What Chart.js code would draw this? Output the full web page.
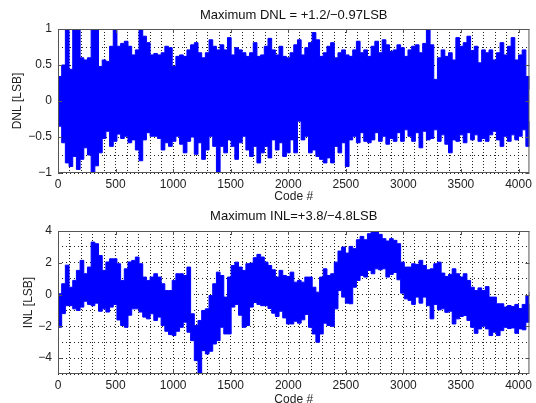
<!DOCTYPE html>
<html>
<head>
<meta charset="utf-8">
<script src="https://cdn.jsdelivr.net/npm/chart.js@4/dist/chart.umd.min.js"></script>
<style>
  html, body { margin: 0; padding: 0; background: #fff; overflow: hidden; width: 536px; height: 403px; }
  canvas { position: absolute; left: 0; }
  #dnl-chart { top: 0; }
  #inl-chart { top: 200px; }
</style>
</head>
<body>
<canvas id="dnl-chart" width="536" height="206"></canvas>
<canvas id="inl-chart" width="536" height="210"></canvas>
<script>
// envelope of the code histogram, read every 32 codes (last point = code 4095)
const codeStep = 32;
const lastCode = 4095;
const gridStep = 100;

const dnlHigh = [
  0.34, 0.5, 1.2, 0.44, 1.1, 1.2, 0.6, 0.57, 0.6, 1.2,
  1.1, 0.48, 0.57, 0.55, 0.76, 1.1, 0.76, 0.8, 0.83, 0.76,
  0.64, 0.71, 1.05, 0.9, 0.81, 0.64, 0.66, 0.64, 0.67, 0.76,
  0.74, 0.48, 0.62, 0.64, 0.62, 0.71, 0.78, 0.81, 0.67, 0.6,
  0.67, 0.85, 0.76, 0.71, 0.78, 0.71, 0.88, 0.64, 0.74, 0.71,
  0.67, 0.62, 0.67, 0.81, 0.62, 0.64, 0.76, 0.87, 0.71, 0.64,
  0.76, 0.62, 0.6, 0.67, 0.78, 0.85, 0.64, 0.74, 0.81, 0.95,
  0.85, 0.62, 0.67, 0.76, 0.81, 0.6, 0.67, 0.71, 0.64, 0.62,
  0.71, 0.83, 0.67, 0.71, 0.62, 0.76, 0.83, 0.67, 0.85, 0.78,
  0.69, 0.71, 0.78, 0.74, 0.62, 0.71, 0.76, 0.78, 0.67, 0.8,
  1.1, 0.78, 0.3, 0.6, 0.71, 0.62, 0.67, 0.57, 0.88, 0.76,
  0.81, 0.9, 0.7, 0.76, 0.53, 0.71, 0.67, 0.71, 0.57, 0.67,
  0.81, 0.64, 0.76, 0.88, 0.57, 0.64, 0.71, 0.34, 0.16
];
const dnlLow = [
  -0.35, -0.58, -0.86, -0.91, -0.77, -0.95, -0.81, -0.65, -0.75, -0.99,
  -0.9, -0.72, -0.52, -0.42, -0.63, -0.56, -0.46, -0.52, -0.49, -0.58,
  -0.54, -0.68, -0.83, -0.54, -0.44, -0.49, -0.49, -0.52, -0.68, -0.58,
  -0.63, -0.56, -0.49, -0.6, -0.72, -0.56, -0.5, -0.74, -0.58, -0.81,
  -0.68, -0.49, -0.63, -0.99, -0.63, -0.72, -0.54, -0.63, -0.81, -0.58,
  -0.49, -0.68, -0.77, -0.63, -0.86, -0.72, -0.63, -0.79, -0.54, -0.68,
  -0.58, -0.77, -0.72, -0.54, -0.72, -0.28, -0.54, -0.49, -0.72, -0.68,
  -0.77, -0.81, -0.86, -0.79, -0.86, -0.63, -0.72, -0.58, -0.91, -0.54,
  -0.49, -0.58, -0.44, -0.56, -0.58, -0.54, -0.44, -0.56, -0.49, -0.6,
  -0.52, -0.56, -0.44, -0.56, -0.4, -0.49, -0.56, -0.44, -0.65, -0.42,
  -0.54, -0.52, -0.4, -0.56, -0.47, -0.6, -0.72, -0.54, -0.56, -0.47,
  -0.58, -0.44, -0.54, -0.47, -0.56, -0.52, -0.56, -0.47, -0.42, -0.54,
  -0.63, -0.49, -0.56, -0.47, -0.54, -0.49, -0.4, -0.63, -0.28
];

const inlHigh = [
  0.05, 0.68, 1.85, 0.46, 0.89, 1.52, 2.15, 1.31, 1.73, 3.3,
  3.2, 2.46, 1.52, 2.05, 2.25, 2.25, 1.94, 0.89, 1.62, 2.05,
  2.15, 2.36, 1.94, 1.1, 0.89, 1.1, 1.31, 1.1, 0.68, 0.25,
  0.25, 0.89, 1.31, 1.31, 1.2, 1.73, -1.21, -1.95, -1.63, -1.0,
  -0.9, -0.06, 0.68, 1.41, 1.2, -0.16, 1.1, 1.83, 2.04, 1.73,
  1.52, 1.94, 1.98, 2.32, 2.53, 2.36, 2.04, 1.83, 1.56, 1.1,
  1.52, 1.2, 1.14, 1.41, 0.78, 0.89, 0.78, 1.1, 1.1, 0.46,
  0.15, 1.1, 1.62, 1.2, 1.31, 2.04, 2.74, 2.99, 2.61, 3.03,
  2.89, 3.45, 3.66, 3.45, 3.83, 3.94, 3.94, 3.79, 3.52, 3.37,
  3.52, 3.41, 3.2, 2.04, 1.73, 1.73, 1.94, 1.9, 2.15, 1.83,
  1.56, 1.62, 1.94, 2.04, 1.35, 1.14, 1.27, 1.62, 1.31, 1.1,
  1.31, 0.89, 0.46, 0.25, 0.42, 0.25, 0.5, -0.16, -0.16, -0.58,
  -0.58, -0.79, -0.69, -0.75, -0.62, -0.88, -0.62, -0.06, 0.15
];
const inlLow = [
  -2.06, -1.2, -0.7, -0.7, -0.9, -1.0, -0.79, -0.42, -0.62, -0.7,
  -0.54, -1.05, -0.9, -1.1, -0.79, -0.62, -1.6, -1.95, -2.06, -1.3,
  -0.9, -0.9, -1.1, -1.42, -1.53, -1.21, -1.63, -1.42, -1.95, -2.31,
  -2.52, -2.58, -2.31, -2.06, -1.74, -2.37, -2.9, -4.16, -4.94, -3.53,
  -3.74, -3.57, -3.11, -2.9, -2.06, -2.48, -2.48, -0.79, -0.62, -1.3,
  -2.06, -1.95, -0.79, -0.5, -0.62, -0.7, -0.7, -0.88, -1.17, -1.38,
  -1.05, -1.47, -1.85, -1.85, -1.68, -1.8, -1.59, -1.25, -2.06, -2.48,
  -3.0, -2.48, -1.8, -1.95, -2.0, -0.9, 0.25, -0.16, -0.54, -0.58,
  0.46, 0.89, 1.2, 1.1, 1.52, 1.31, 1.62, 1.56, 1.62, 1.1,
  1.27, 1.39, 0.93, 0.09, -0.27, -0.37, -0.62, -0.16, -0.54, -0.16,
  -0.7, -1.53, -0.62, -0.96, -0.9, -1.12, -1.05, -1.85, -1.53, -1.38,
  -1.32, -1.63, -2.06, -2.44, -2.16, -1.99, -2.16, -2.58, -2.37, -2.58,
  -2.27, -2.06, -2.14, -2.1, -2.44, -2.16, -2.22, -1.74, -0.58
];

const xTickLabels = [0, 500, 1000, 1500, 2000, 2500, 3000, 3500, 4000];
const dnlTickLabels = [-1, -0.5, 0, 0.5, 1];
const inlTickLabels = [-4, -2, 0, 2, 4];

const blue = "#0000ff";
const dotColor = "#222222";
const frameColor = "#555555";

Chart.defaults.font.family = "'Liberation Sans', Arial, sans-serif";
Chart.defaults.font.size = 12;
Chart.defaults.color = "#222222";

const sampleCodes = dnlHigh.map((_, i) => Math.min(i * codeStep, lastCode));

function fmt(v) {
  return String(v).replace("-", "\u2212");
}

function isLabelled(list, v) {
  return list.some(t => Math.abs(t - v) < 1e-9);
}

// minor grid every 100 codes; Chart.js would spread them evenly over 0..4095 otherwise
function codeGridTicks(scale) {
  const ticks = [];
  for (let v = 0; v <= lastCode; v += gridStep) ticks.push({ value: v });
  scale.ticks = ticks;
}

// box round the plot plus the short inward ticks at labelled values
const framePlugin = {
  id: "frame",
  afterDraw(chart, args, opts) {
    const { ctx, chartArea: a, scales } = chart;
    ctx.save();
    ctx.strokeStyle = frameColor;
    ctx.lineWidth = 1;
    ctx.strokeRect(a.left + 0.5, a.top + 0.5, a.width - 1, a.height - 1);
    ctx.beginPath();
    xTickLabels.forEach(v => {
      const x = Math.round(scales.x.getPixelForValue(v)) + 0.5;
      ctx.moveTo(x, a.top); ctx.lineTo(x, a.top + 4);
      ctx.moveTo(x, a.bottom); ctx.lineTo(x, a.bottom - 4);
    });
    opts.yLabels.forEach(v => {
      const y = Math.round(scales.y.getPixelForValue(v)) + 0.5;
      ctx.moveTo(a.left, y); ctx.lineTo(a.left + 4, y);
      ctx.moveTo(a.right, y); ctx.lineTo(a.right - 4, y);
    });
    ctx.stroke();
    ctx.restore();
  }
};

function bandDatasets(high, low) {
  const common = {
    borderColor: blue,
    backgroundColor: blue,
    borderWidth: 1,
    pointRadius: 0,
    stepped: true,
    tension: 0
  };
  return [
    Object.assign({ data: sampleCodes.map((c, i) => ({ x: c, y: high[i] })), fill: "+1" }, common),
    Object.assign({ data: sampleCodes.map((c, i) => ({ x: c, y: low[i] })), fill: false }, common)
  ];
}

function makeChart(id, cfg) {
  return new Chart(document.getElementById(id), {
    type: "line",
    data: { datasets: bandDatasets(cfg.high, cfg.low) },
    plugins: [framePlugin],
    options: {
      responsive: false,
      animation: false,
      events: [],
      layout: { padding: { left: 0, right: 1, top: 0, bottom: 0 } },
      plugins: {
        legend: { display: false },
        tooltip: { enabled: false },
        frame: { yLabels: cfg.yLabels },
        title: {
          display: true,
          fullSize: false,
          text: cfg.title,
          color: "#111",
          font: { size: 13, weight: "normal" },
          padding: cfg.titlePad
        }
      },
      scales: {
        x: {
          type: "linear",
          min: 0,
          max: lastCode,
          afterBuildTicks: codeGridTicks,
          afterFit: s => { s.height = cfg.xHeight; },
          ticks: {
            autoSkip: false,
            maxRotation: 0,
            padding: 4,
            callback: v => (isLabelled(xTickLabels, v) ? fmt(v) : "")
          },
          grid: { color: dotColor, lineWidth: 1, drawTicks: false },
          border: { display: false, dash: [1, 2] },
          title: {
            display: true,
            text: "Code #",
            font: { size: 12 },
            padding: { top: 0, bottom: cfg.xTitlePad }
          }
        },
        y: {
          min: cfg.yMin,
          max: cfg.yMax,
          afterFit: s => { s.width = 58; },
          ticks: {
            stepSize: cfg.yStep,
            autoSkip: false,
            padding: 6,
            callback: v => (isLabelled(cfg.yLabels, v) ? fmt(v) : "")
          },
          grid: { color: dotColor, lineWidth: 1, drawTicks: false },
          border: { display: false, dash: [1, 3] },
          title: {
            display: true,
            text: cfg.yTitle,
            font: { size: 12 },
            padding: { top: cfg.yTitlePad, bottom: 0 }
          }
        }
      }
    }
  });
}

makeChart("dnl-chart", {
  high: dnlHigh,
  low: dnlLow,
  title: "Maximum DNL = +1.2/\u22120.97LSB",
  titlePad: { top: 7.8, bottom: 5.6 },
  yTitle: "DNL [LSB]",
  yTitlePad: 10.3,
  yMin: -1,
  yMax: 1,
  yStep: 0.25,
  yLabels: dnlTickLabels,
  xHeight: 33,
  xTitlePad: 1.8
});

makeChart("inl-chart", {
  high: inlHigh,
  low: inlLow,
  title: "Maximum INL=+3.8/\u22124.8LSB",
  titlePad: { top: 8.2, bottom: 7.2 },
  yTitle: "INL [LSB]",
  yTitlePad: 21,
  yMin: -5,
  yMax: 4,
  yStep: 1,
  yLabels: inlTickLabels,
  xHeight: 36,
  xTitlePad: 3.5
});
</script>
</body>
</html>
